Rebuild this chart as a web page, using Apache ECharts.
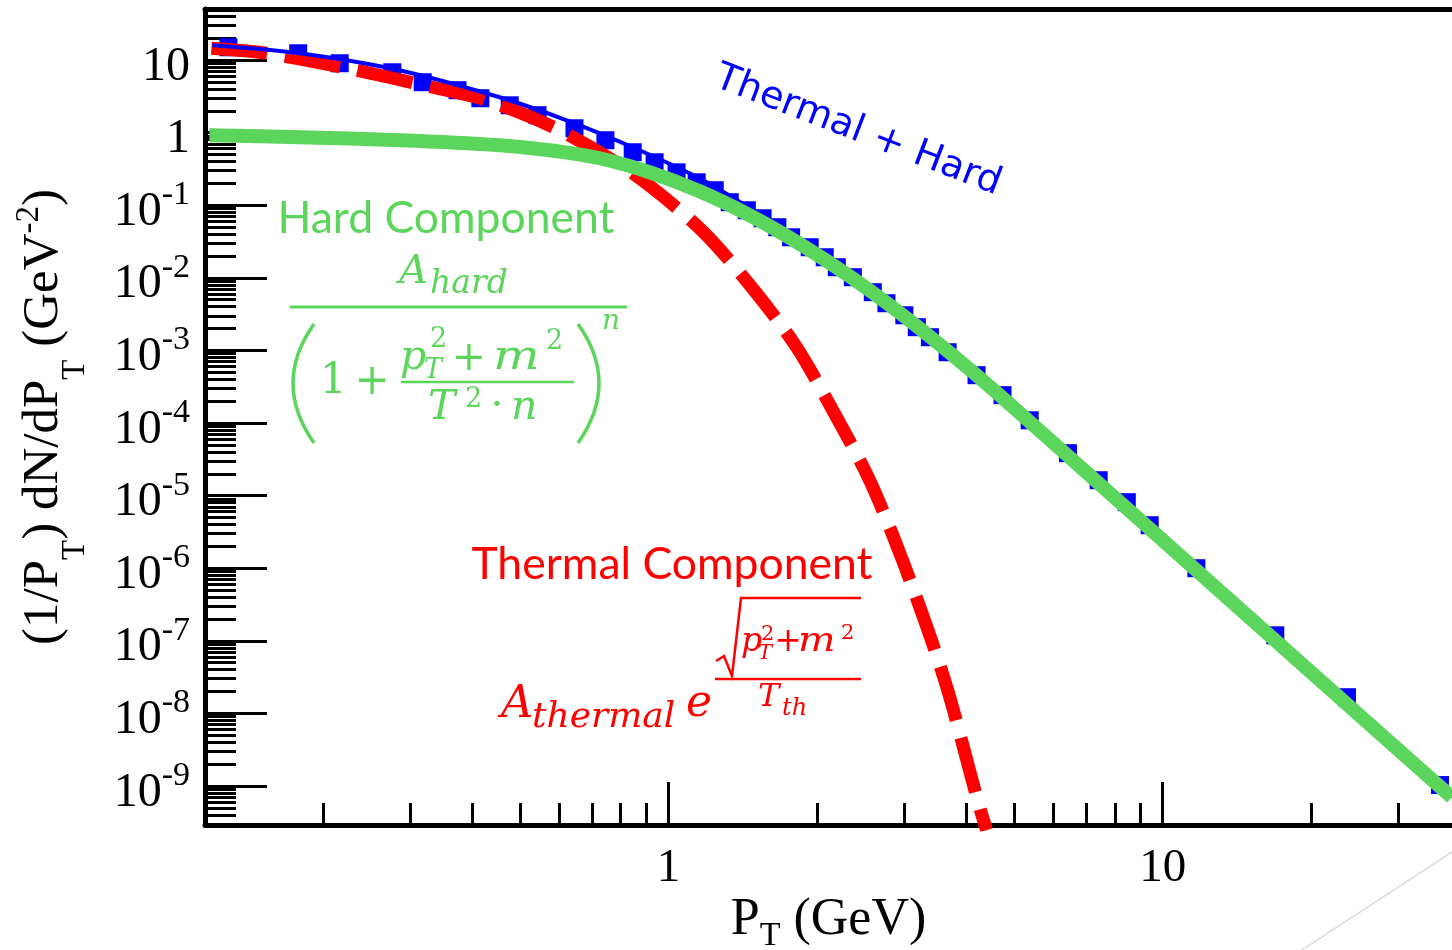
<!DOCTYPE html>
<html>
<head>
<meta charset="utf-8">
<script src="https://cdn.jsdelivr.net/npm/echarts@6/dist/echarts.min.js"></script>
<style>
html,body{margin:0;padding:0;background:#fff;}
#chart{width:1452px;height:950px;}
</style>
</head>
<body>
<div id="chart"></div>
<script>
// ---------------- data ----------------
const dataPt = [0.1286, 0.178, 0.216, 0.276, 0.318, 0.374, 0.416, 0.477, 0.543, 0.645, 0.745, 0.846, 0.937, 1.038, 1.14, 1.24, 1.33, 1.44, 1.55, 1.66, 1.77, 1.93, 2.07, 2.19, 2.36, 2.59, 2.76, 3.00, 3.18, 3.38, 3.67, 4.20, 4.74, 5.38, 6.43, 7.42, 8.46, 9.41, 11.7, 16.9, 23.6, 36.4];
const dataYield = [15.0, 12.4, 9.03, 6.79, 4.95, 3.84, 2.98, 2.38, 1.74, 1.15, 0.786, 0.537, 0.391, 0.284, 0.207, 0.161, 0.110, 0.0853, 0.0662, 0.0498, 0.0362, 0.0264, 0.0192, 0.0140, 0.0102, 0.00634, 0.00447, 0.00305, 0.00209, 0.00152, 0.000944, 0.000456, 0.000242, 0.000109, 3.84e-5, 1.63e-5, 8.11e-6, 3.91e-6, 1.00e-6, 1.19e-7, 1.67e-8, 1.03e-9];

const totalPt = [0.1194, 0.179, 0.285, 0.455, 0.622, 0.846, 1.155, 1.53, 2.12, 2.94, 3.71, 4.68, 7.46, 11.88, 18.94, 38.46];
const totalYield = [16.0, 12.4, 7.24, 3.07, 1.48, 0.630, 0.235, 0.075, 0.0185, 0.0036, 9.4e-4, 2.43e-4, 1.44e-5, 8.55e-7, 5.07e-8, 7.01e-10];

const thermalPt = [0.1188, 0.1535, 0.2188, 0.333, 0.428, 0.602, 0.846, 1.166, 1.472, 1.816, 2.148, 2.552, 3.005, 3.62, 4.22, 4.40];
const thermalYield = [14.5, 12.4, 7.96, 4.22, 2.79, 1.079, 0.276, 0.0453, 0.00743, 0.001107, 1.50e-4, 1.63e-5, 1.07e-6, 2.87e-8, 6.37e-10, 2.46e-10];

const hardPt = [0.1177, 0.1791, 0.2854, 0.4548, 0.5742, 0.7250, 0.9153, 1.1555, 1.4588, 1.8414, 2.3245, 2.9349, 3.7053, 4.6774, 7.456, 11.884, 18.937, 38.46];
const hardYield = [0.921, 0.864, 0.786, 0.6706, 0.5723, 0.4441, 0.2848, 0.1559, 0.07283, 0.02949, 0.01052, 0.003306, 9.30e-4, 2.415e-4, 1.436e-5, 8.53e-7, 5.07e-8, 7.01e-10];

// ---------------- axes / ticks ----------------
const X_MIN = 0.1153, X_MAX = 38.5;
const Y_MIN = 2.9e-10, Y_MAX = 50.5;
const xMajorTicks = [1, 10];
const xMinorTicks = [0.2, 0.3, 0.4, 0.5, 0.6, 0.7, 0.8, 0.9, 2, 3, 4, 5, 6, 7, 8, 9, 20, 30];
const yDecades = [1e-10, 1e-9, 1e-8, 1e-7, 1e-6, 1e-5, 1e-4, 1e-3, 1e-2, 1e-1, 1, 10];
const yMajorTicks = yDecades.filter(v => v >= Y_MIN && v <= Y_MAX);
const minorMultipliers = [2, 3, 4, 5, 6, 7, 8, 9];
const yMinorTicks = [];
yDecades.forEach(d => minorMultipliers.forEach(m => { const v = m * d; if (v > Y_MIN && v < Y_MAX) yMinorTicks.push(v); }));

const SERIF = '"Liberation Serif", "Times New Roman", serif';
const MATH = '"DejaVu Serif", serif';
const SANS = 'Lato, "Open Sans", sans-serif';
const GREEN = '#5cd55c', RED = '#ff0000', BLUE = '#0000ff';

const zip = (a, b) => a.map((v, i) => [v, b[i]]);

function yLabel(v) {
  const e = Math.round(Math.log10(v));
  if (e === 1) return '{b|10}';
  if (e === 0) return '{b|1}';
  return '{b|10}{s|' + e + '}';
}

// ---------------- annotation helpers ----------------
function txt(x, y, s, size, color, o) {
  o = o || {};
  return { type: 'text', x: x, y: y, rotation: o.rot || 0, scaleX: o.sx || 1, z: 100,
    style: { text: s, font: (o.italic ? 'italic ' : '') + size + 'px ' + (o.family || MATH),
      fill: color, align: o.align || 'left', verticalAlign: 'middle' } };
}
function seg(points, color, w) {
  return { type: 'polyline', z: 100, shape: { points: points }, style: { stroke: color, lineWidth: w, fill: null } };
}
function paren(x1, y1, cx, cy, x2, y2, color, w) {
  return { type: 'bezierCurve', z: 100, shape: { x1: x1, y1: y1, x2: x2, y2: y2, cpx1: cx, cpy1: cy },
    style: { stroke: color, lineWidth: w, fill: null } };
}
const I = { italic: true };
const graphics = [
  // Thermal + Hard
  txt(858, 131, 'Thermal + Hard', 38, BLUE, { family: '"DejaVu Sans", sans-serif', align: 'center', rot: -0.367 }),
  // Hard component
  txt(446, 219, 'Hard Component', 44.5, GREEN, { family: SANS, align: 'center' }),
  txt(399, 273, 'A', 40, GREEN, I),
  txt(430, 284, 'hard', 33, GREEN, I),
  seg([[290, 307], [627, 307]], GREEN, 3),
  paren(314, 324, 272, 383, 314, 443, GREEN, 3.5),
  txt(320, 382, '1', 42, GREEN),
  txt(372, 383, '+', 42, GREEN, { align: 'center' }),
  txt(400, 358, 'p', 41, GREEN, I),
  txt(424, 371, 'T', 27, GREEN, I),
  txt(430, 340, '2', 27, GREEN),
  txt(469, 359, '+', 41, GREEN, { align: 'center' }),
  txt(493, 358, 'm', 41, GREEN, { italic: true, sx: 1.2 }),
  txt(546, 342, '2', 27, GREEN),
  seg([[401, 382], [574, 382]], GREEN, 2.5),
  txt(428, 408, 'T', 41, GREEN, I),
  txt(465, 400, '2', 27, GREEN),
  txt(497, 407, '\u00b7', 41, GREEN, { align: 'center' }),
  txt(511, 408, 'n', 41, GREEN, I),
  paren(578, 324, 620, 383, 578, 443, GREEN, 3.5),
  txt(602, 322, 'n', 28, GREEN, I),
  // Thermal component
  txt(672, 565, 'Thermal Component', 44.5, RED, { family: SANS, align: 'center' }),
  txt(501, 705, 'A', 45, RED, I),
  txt(532, 718, 'thermal', 36, RED, I),
  txt(686, 705, 'e', 44, RED, I),
  seg([[716, 661], [724, 656], [732, 676], [741, 598], [861, 598]], RED, 2.5),
  txt(741, 642, 'p', 33, RED, I),
  txt(758, 654, 'T', 21, RED, I),
  txt(761, 635, '2', 21, RED),
  txt(788, 642, '+', 33, RED, { align: 'center' }),
  txt(798, 642, 'm', 33, RED, { italic: true, sx: 1.2 }),
  txt(841, 634, '2', 21, RED),
  seg([[715, 679], [861, 679]], RED, 2.5),
  txt(758, 698, 'T', 32, RED, I),
  txt(782, 709, 'th', 24, RED, I),
  // faint slide artefact line
  seg([[1452, 852], [1302, 950]], '#dcdcdc', 1.5)
];

const tickStyle = { color: '#000', width: 3 };
const chart = echarts.init(document.getElementById('chart'), null, { renderer: 'canvas' });
chart.setOption({
  animation: false,
  backgroundColor: '#fff',
  grid: { left: 205, right: 0, top: 9, bottom: 125, containLabel: false, outerBoundsMode: 'none' },
  xAxis: [
    { type: 'log', logBase: 10, min: X_MIN, max: X_MAX, position: 'bottom',
      axisLine: { show: true, onZero: false, lineStyle: { color: '#000', width: 5 } },
      axisTick: { show: true, inside: true, length: 43, lineStyle: tickStyle, customValues: xMajorTicks },
      axisLabel: { show: true, customValues: xMajorTicks, margin: 20, fontFamily: SERIF, fontSize: 47, color: '#000',
        formatter: v => String(Math.round(v)) },
      splitLine: { show: false }, minorTick: { show: false },
      name: 'P{s|T} (GeV)', nameLocation: 'middle', nameGap: 69, nameMoveOverlap: false,
      nameTextStyle: { fontFamily: SERIF, fontSize: 52, lineHeight: 52, color: '#000',
        rich: { s: { fontFamily: SERIF, fontSize: 34, lineHeight: 34, padding: [33, 0, 0, 0], color: '#000' } } } },
    { type: 'log', logBase: 10, min: X_MIN, max: X_MAX, position: 'bottom',
      axisLine: { show: false },
      axisTick: { show: true, inside: true, length: 22, lineStyle: tickStyle, customValues: xMinorTicks },
      axisLabel: { show: false }, splitLine: { show: false } },
    { type: 'log', logBase: 10, min: X_MIN, max: X_MAX, position: 'top',
      axisLine: { show: true, onZero: false, lineStyle: { color: '#000', width: 5 } },
      axisTick: { show: false }, axisLabel: { show: false }, splitLine: { show: false } }
  ],
  yAxis: [
    { type: 'log', logBase: 10, min: Y_MIN, max: Y_MAX, position: 'left',
      axisLine: { show: true, onZero: false, lineStyle: { color: '#000', width: 5 } },
      axisTick: { show: true, inside: true, length: 62, lineStyle: tickStyle, customValues: yMajorTicks },
      axisLabel: { show: true, customValues: yMajorTicks, margin: 15, formatter: yLabel,
        rich: {
          b: { fontFamily: SERIF, fontSize: 48, lineHeight: 48, padding: [14, 0, 0, 0], color: '#000' },
          s: { fontFamily: SERIF, fontSize: 34, lineHeight: 34, padding: [0, 0, 20, 0], color: '#000' }
        } },
      splitLine: { show: false }, minorTick: { show: false },
      name: '(1/P{s|T}) dN/dP{s|T} (GeV{u|-2})', nameLocation: 'middle', nameRotate: 90, nameGap: 136, nameMoveOverlap: false,
      nameTextStyle: { fontFamily: SERIF, fontSize: 51, lineHeight: 51, color: '#000',
        rich: {
          s: { fontFamily: SERIF, fontSize: 33, lineHeight: 33, padding: [64, 0, 0, 0], color: '#000' },
          u: { fontFamily: SERIF, fontSize: 33, lineHeight: 33, padding: [0, 0, 28, 0], color: '#000' }
        } } },
    { type: 'log', logBase: 10, min: Y_MIN, max: Y_MAX, position: 'left',
      axisLine: { show: false },
      axisTick: { show: true, inside: true, length: 31, lineStyle: tickStyle, customValues: yMinorTicks },
      axisLabel: { show: false }, splitLine: { show: false } }
  ],
  series: [
    { name: 'data', type: 'scatter', xAxisIndex: 0, yAxisIndex: 0, data: zip(dataPt, dataYield),
      symbol: 'rect', symbolSize: 18, itemStyle: { color: BLUE, opacity: 1 }, z: 2 },
    { name: 'thermal', type: 'line', xAxisIndex: 0, yAxisIndex: 0, data: zip(thermalPt, thermalYield),
      smooth: 0.3, showSymbol: false, symbol: 'none',
      lineStyle: { color: RED, width: 13, type: [56, 18], cap: 'butt' }, z: 3 },
    { name: 'total', type: 'line', xAxisIndex: 0, yAxisIndex: 0, data: zip(totalPt, totalYield),
      smooth: 0.3, showSymbol: false, symbol: 'none', lineStyle: { color: BLUE, width: 4 }, z: 4 },
    { name: 'hard', type: 'line', xAxisIndex: 0, yAxisIndex: 0, data: zip(hardPt, hardYield),
      smooth: 0.3, showSymbol: false, symbol: 'none', lineStyle: { color: GREEN, width: 14 }, z: 5 }
  ],
  graphic: graphics
});
</script>
</body>
</html>
